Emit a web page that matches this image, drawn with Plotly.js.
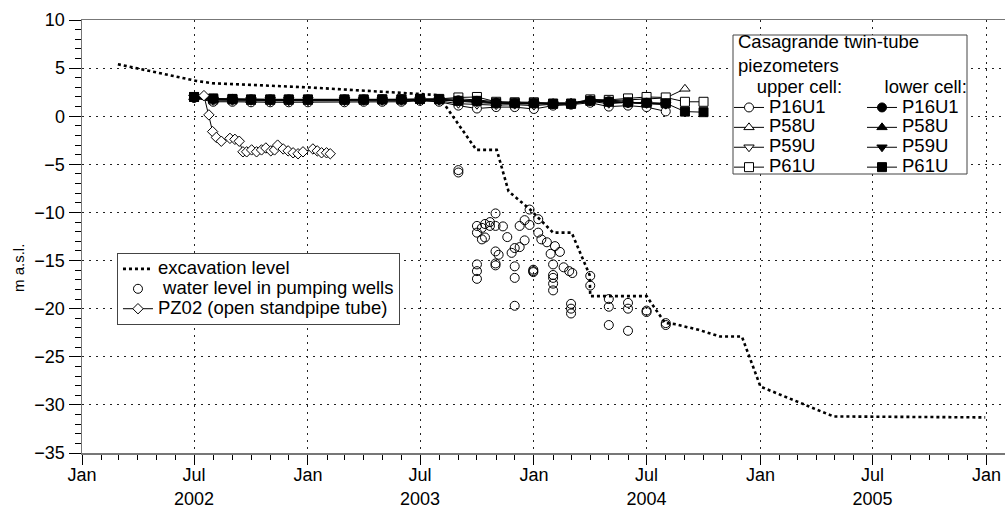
<!DOCTYPE html>
<html>
<head>
<meta charset="utf-8">
<script src="https://cdn.plot.ly/plotly-3.0.1.min.js"></script>
<style>
html,body{margin:0;padding:0;background:#fff;}
#chart{width:1005px;height:509px;}
</style>
</head>
<body>
<div id="chart"></div>
<script>
// ---------- data ----------
// excavation level (m a.s.l.)
var excDates = ['2002-02-28','2002-07-05','2002-07-30','2003-01-01','2003-07-30','2003-09-30','2003-11-02','2003-11-21','2003-12-26','2004-02-01','2004-03-02','2004-03-31','2004-04-01','2004-07-01','2004-07-31','2004-08-15','2004-09-23','2004-10-28','2004-12-02','2005-01-01','2005-04-29','2005-12-30'];
var excLevel = [5.4, 3.67, 3.43, 3.0, 2.2, -3.5, -3.5, -7.8, -9.7, -12.1, -12.1, -16.5, -18.7, -18.7, -21.5, -21.6, -22.2, -22.9, -22.9, -28.1, -31.2, -31.3];

// water level in pumping wells
var wellDates = ['2003-09-01','2003-09-01',
  '2003-10-01','2003-10-01','2003-10-01','2003-10-01','2003-10-01',
  '2003-10-09','2003-10-09','2003-10-14','2003-10-14','2003-10-22','2003-10-22',
  '2003-10-31','2003-10-31','2003-10-31','2003-10-31','2003-10-31',
  '2003-11-05','2003-11-12','2003-11-19','2003-11-26',
  '2003-12-01','2003-12-01','2003-12-01','2003-12-01',
  '2003-12-09','2003-12-09','2003-12-17','2003-12-17','2003-12-25','2003-12-25',
  '2003-12-31','2003-12-31','2003-12-31',
  '2004-01-08','2004-01-08','2004-01-13','2004-01-22','2004-01-28',
  '2004-02-01','2004-02-01','2004-02-01','2004-02-01','2004-02-01',
  '2004-02-04','2004-02-12','2004-02-18','2004-02-27','2004-03-03',
  '2004-03-01','2004-03-01','2004-03-01',
  '2004-04-01','2004-04-01',
  '2004-05-01','2004-05-01','2004-05-01',
  '2004-06-01','2004-06-01','2004-06-01',
  '2004-07-01','2004-07-01',
  '2004-08-01','2004-08-01'];
var wellLevel = [-5.6,-5.85,
  -11.4,-12.1,-15.4,-16.1,-16.9,
  -11.6,-12.8,-11.2,-12.6,-11.0,-11.4,
  -10.1,-11.4,-14.05,-15.3,-15.5,
  -14.4,-11.45,-12.56,-14.2,
  -13.7,-15.6,-16.8,-19.7,
  -13.6,-11.4,-12.9,-10.8,-11.3,-9.7,
  -15.95,-16.1,-16.2,
  -10.7,-12.1,-12.8,-13.1,-14.3,
  -15.4,-16.5,-16.8,-17.4,-18.1,
  -13.5,-14.1,-15.7,-16.1,-16.3,
  -19.5,-20.0,-20.5,
  -16.6,-17.6,
  -19.0,-19.8,-21.7,
  -19.4,-20.0,-22.3,
  -20.2,-20.35,
  -21.5,-21.7];

// PZ02 open standpipe tube
var pzDates = ['2002-07-17','2002-07-25','2002-07-31','2002-08-06','2002-08-14','2002-08-28','2002-09-05','2002-09-12','2002-09-18','2002-09-24','2002-10-02','2002-10-10','2002-10-18','2002-10-25','2002-11-02','2002-11-08','2002-11-13','2002-11-22','2002-11-30','2002-12-08','2002-12-16','2002-12-24','2003-01-09','2003-01-16','2003-01-23','2003-01-31','2003-02-06'];
var pzLevel = [2.14,0.14,-1.6,-2.2,-2.6,-2.3,-2.4,-2.6,-3.7,-3.7,-3.5,-3.7,-3.5,-3.3,-3.6,-3.5,-3.0,-3.4,-3.6,-3.8,-3.9,-3.7,-3.4,-3.6,-3.8,-3.8,-3.9];

// Casagrande piezometers, monthly readings
var pzmDates = ['2002-07-01','2002-08-01','2002-09-01','2002-10-01','2002-11-01','2002-12-01','2003-01-01',
  '2003-03-01','2003-04-01','2003-05-01','2003-06-01','2003-07-01','2003-08-01','2003-09-01','2003-10-01','2003-11-01','2003-12-01',
  '2004-01-01','2004-02-01','2004-03-01','2004-04-01','2004-05-01','2004-06-01','2004-07-01','2004-08-01','2004-09-01','2004-10-01'];
// upper cell
var P16U1_up = [1.9,1.5,1.5,1.45,1.45,1.45,1.45, 1.45,1.5,1.5,1.5,1.6,1.5,1.1,0.8,0.95,0.95, 0.75,1.1,1.2,1.4,1.0,1.1,0.95,0.5];
var P58U_up  = [2.0,1.7,1.7,1.65,1.65,1.65,1.65, 1.65,1.65,1.7,1.7,1.75,1.75,1.8,1.7,1.5,1.4, 1.4,1.35,1.4,1.7,1.6,1.7,1.8,1.9,2.85];
var P59U_up  = [1.95,1.6,1.6,1.6,1.55,1.55,1.55, 1.55,1.6,1.6,1.6,1.65,1.6,1.3,1.2,1.15,1.2, 1.1,1.25,1.3,1.55,1.3,1.45,1.3,1.2];
var P61U_up  = [2.0,1.75,1.75,1.7,1.7,1.7,1.7, 1.7,1.7,1.75,1.75,1.8,1.8,1.95,2.0,1.5,1.45, 1.45,1.3,1.3,1.75,1.7,1.85,2.0,1.95,1.5,1.5];
// lower cell
var P16U1_lo = [1.95,1.8,1.8,1.75,1.75,1.75,1.75, 1.75,1.75,1.75,1.75,1.8,1.75,1.65,1.6,1.4,1.35, 1.35,1.3,1.3,1.65,1.55,1.4,1.4,1.3];
var P58U_lo  = [1.95,1.75,1.75,1.7,1.7,1.7,1.7, 1.7,1.7,1.7,1.7,1.75,1.7,1.6,1.5,1.35,1.3, 1.3,1.3,1.3,1.6,1.5,1.4,1.35,1.3];
var P59U_lo  = [1.95,1.75,1.7,1.7,1.7,1.7,1.7, 1.7,1.7,1.7,1.7,1.75,1.7,1.55,1.45,1.3,1.3, 1.3,1.25,1.25,1.55,1.45,1.35,1.3,1.25];
var P61U_lo  = [2.0,1.85,1.8,1.75,1.75,1.75,1.75, 1.75,1.75,1.75,1.75,1.8,1.75,1.6,1.6,1.35,1.35, 1.35,1.3,1.3,1.6,1.5,1.45,1.4,1.35,0.48,0.42];

// axis tick labels
var xTickVals = ['2002-01-01','2002-07-01','2003-01-01','2003-07-01','2004-01-01','2004-07-01','2005-01-01','2005-07-01','2006-01-01'];
var xTickText = ['Jan','Jul<br>2002','Jan','Jul<br>2003','Jan','Jul<br>2004','Jan','Jul<br>2005','Jan'];
var yTickVals = [10,5,0,-5,-10,-15,-20,-25,-30,-35];

// ---------- traces ----------
var FONT = '"Liberation Sans", Arial, Helvetica, sans-serif';
var NB = '\u00a0';
function big(s){ return '<span style="font-size:18.5px">' + s + '</span>'; }
function pad(n){ var s=''; for(var i=0;i<n;i++) s+=NB; return s; }

var traces = [];
var piezo = [
  {name:'P16U1', y:P16U1_up, sym:'circle',        open:true,  leg:'legend2'},
  {name:'P58U',  y:P58U_up,  sym:'triangle-up',   open:true,  leg:'legend2'},
  {name:'P59U',  y:P59U_up,  sym:'triangle-down', open:true,  leg:'legend2'},
  {name:'P61U',  y:P61U_up,  sym:'square',        open:true,  leg:'legend2'},
  {name:'P16U1', y:P16U1_lo, sym:'circle',        open:false, leg:'legend3'},
  {name:'P58U',  y:P58U_lo,  sym:'triangle-up',   open:false, leg:'legend3'},
  {name:'P59U',  y:P59U_lo,  sym:'triangle-down', open:false, leg:'legend3'},
  {name:'P61U',  y:P61U_lo,  sym:'square',        open:false, leg:'legend3'}
];
piezo.forEach(function(p){
  traces.push({
    type:'scatter', mode:'lines+markers',
    x: pzmDates.slice(0, p.y.length), y: p.y,
    name: big(p.name), legend:p.leg,
    line:{color:'#000', width:1},
    marker:{symbol:p.sym, size:9, color: p.open ? '#fff' : '#000', line:{color:'#000', width:1}}
  });
});

traces.push({
  type:'scatter', mode:'lines', x: excDates, y: excLevel,
  name: big('excavation level'), legend:'legend',
  line:{color:'#000', width:2.6, dash:'dot'}
});
traces.push({
  type:'scatter', mode:'markers', x: wellDates, y: wellLevel,
  name: big(NB + 'water level in pumping wells'), legend:'legend',
  marker:{symbol:'circle', size:9, color:'rgba(255,255,255,0)', line:{color:'#000', width:1}}
});
traces.push({
  type:'scatter', mode:'lines+markers', x: pzDates, y: pzLevel,
  name: big('PZ02 (open standpipe tube)'), legend:'legend',
  line:{color:'#000', width:1},
  marker:{symbol:'diamond', size:8, color:'#fff', line:{color:'#000', width:1}}
});

// ---------- layout ----------
var legendCommon = {
  xanchor:'left', yanchor:'top',
  font:{family:FONT, size:13, color:'#000'},
  tracegroupgap:0
};
var layout = {
  width:1005, height:509,
  margin:{l:82, r:0, t:20, b:56, autoexpand:false},
  paper_bgcolor:'#fff', plot_bgcolor:'#fff',
  font:{family:FONT, size:18, color:'#000'},
  showlegend:true,
  xaxis:{
    type:'date', range:['2002-01-01','2006-01-31'],
    tickmode:'array', tickvals:xTickVals, ticktext:xTickText,
    ticks:'outside', ticklen:10, tickwidth:1, tickcolor:'#000',
    ticklabelstandoff:-5,
    tickfont:{family:FONT, size:18, color:'#000'},
    showline:true, linecolor:'#777', linewidth:1.5, mirror:true,
    showgrid:true, gridcolor:'#222', gridwidth:1, griddash:'2px,5px',
    zeroline:false, automargin:false,
    minor:{tickmode:'linear', tick0:'2002-01-01', dtick:'M1', ticks:'outside', ticklen:5, tickwidth:1, tickcolor:'#000', showgrid:false}
  },
  yaxis:{
    range:[-35,10], tickmode:'array', tickvals:yTickVals,
    ticks:'outside', ticklen:12, tickwidth:1, tickcolor:'#000',
    tickfont:{family:FONT, size:18, color:'#000'},
    showline:true, linecolor:'#777', linewidth:1.5,
    showgrid:true, gridcolor:'#222', gridwidth:1, griddash:'2px,5px',
    zeroline:false, automargin:false,
    minor:{tickmode:'linear', tick0:0, dtick:1, ticks:'outside', ticklen:6, tickwidth:1, tickcolor:'#000', showgrid:false}
  },
  legend: Object.assign({}, legendCommon, {
    x:0.0379, y:0.462,
    bgcolor:'#fff', bordercolor:'#444', borderwidth:1
  }),
  legend2: Object.assign({}, legendCommon, {
    x:(729-82)/923, y:(453-73)/433,
    bgcolor:'rgba(0,0,0,0)', borderwidth:0,
    title:{text: big(pad(5) + 'upper cell:'), side:'top', font:{family:FONT, size:15, color:'#000'}}
  }),
  legend3: Object.assign({}, legendCommon, {
    x:(862-82)/923, y:(453-73)/433,
    bgcolor:'rgba(0,0,0,0)', borderwidth:0,
    title:{text: big(pad(4) + 'lower cell:'), side:'top', font:{family:FONT, size:15, color:'#000'}}
  }),
  shapes:[{
    type:'rect', xref:'paper', yref:'paper', layer:'above',
    x0:(733-82)/923, x1:(967-82)/923, y0:(453-174)/433, y1:(453-35)/433,
    line:{color:'#444', width:1}, fillcolor:'#fff'
  }],
  annotations:[
    {xref:'paper', yref:'paper', x:(736-82)/923, y:(453-53)/433, xanchor:'left', yanchor:'middle', align:'left',
     showarrow:false, text:'Casagrande twin-tube<br>piezometers', font:{family:FONT, size:18.5, color:'#000'}},
    {xref:'paper', yref:'paper', x:(18-82)/923, y:(453-268)/433, xanchor:'center', yanchor:'middle',
     textangle:-90, showarrow:false, text:'m a.s.l.', font:{family:FONT, size:15, color:'#000'}}
  ]
};

Plotly.newPlot('chart', traces, layout, {displayModeBar:false, staticPlot:true});
</script>
</body>
</html>
